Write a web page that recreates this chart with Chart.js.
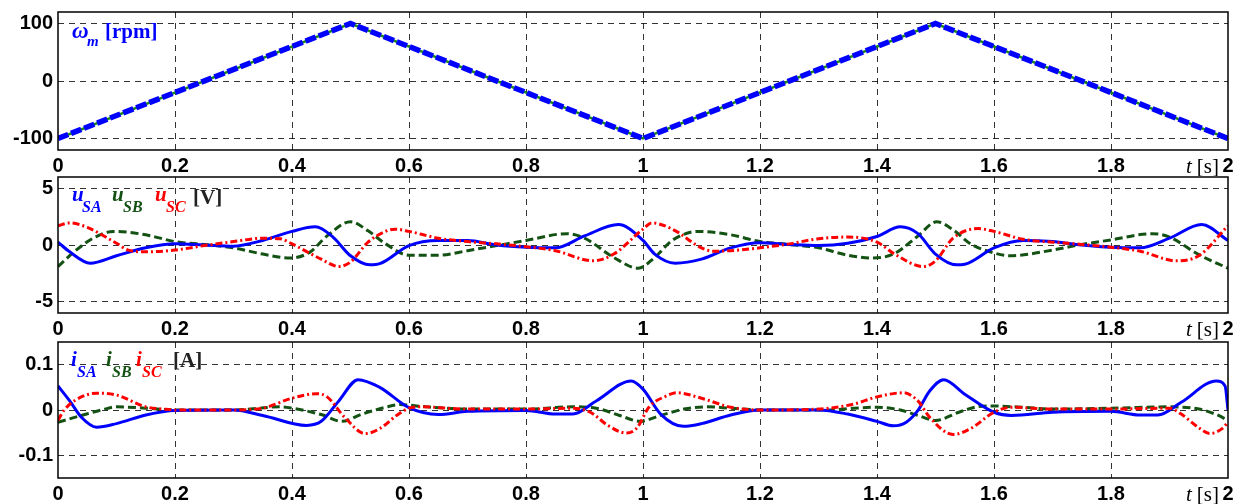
<!DOCTYPE html>
<html>
<head>
<meta charset="utf-8">
<script src="https://cdn.jsdelivr.net/npm/chart.js@4.4.0/dist/chart.umd.min.js"></script>
<style>
body { margin: 0; background: #fff; width: 1244px; height: 504px; overflow: hidden; position: relative; }
canvas { position: absolute; left: 0; }
</style>
</head>
<body>
<canvas id="p1" width="1244" height="176" style="top:0px"></canvas>
<canvas id="p2" width="1244" height="175" style="top:165px"></canvas>
<canvas id="p3" width="1244" height="174" style="top:330px"></canvas>
<script>
// time axis, shared
const xTicks = [0, 0.2, 0.4, 0.6, 0.8, 1, 1.2, 1.4, 1.6, 1.8, 2];
const xTickLabels = ['0', '0.2', '0.4', '0.6', '0.8', '1', '1.2', '1.4', '1.6', '1.8', '2'];

// speed [rpm]
const omegaT = [0, 0.5, 1, 1.5, 2];
const omegaRef = [-100, 100, -100, 100, -100];
const omegaMeas = [-100, 100, -100, 100, -100];
const omegaTicks = [-100, 0, 100];
const omegaTickLabels = ['-100', '0', '100'];

// voltages [V]
const uSA_t = [0, 0.02, 0.055, 0.1, 0.15, 0.2, 0.25, 0.3, 0.35, 0.4, 0.44, 0.47, 0.5, 0.533, 0.55, 0.6, 0.65, 0.7, 0.75, 0.8, 0.85, 0.9, 0.958, 1.0, 1.02, 1.055, 1.1, 1.15, 1.2, 1.25, 1.3, 1.35, 1.4, 1.44, 1.47, 1.5, 1.536, 1.55, 1.6, 1.65, 1.7, 1.75, 1.8, 1.85, 1.9, 1.955, 2.0];
const uSA = [0.25, -0.6, -1.6, -0.95, -0.25, 0.1, 0, -0.1, 0.4, 1.2, 1.6, 0.7, -0.95, -1.75, -1.65, -0.05, 0.4, 0.4, 0, -0.2, -0.25, 0.8, 1.8, 0.4, -0.8, -1.6, -1.25, -0.25, 0.2, 0.05, -0.05, 0.15, 0.75, 1.6, 1.0, -0.8, -1.75, -1.7, -0.25, 0.4, 0.3, 0, -0.2, -0.25, 0.6, 1.8, 0.4];
const uSB_t = [0, 0.03, 0.06, 0.095, 0.15, 0.2, 0.25, 0.3, 0.35, 0.397, 0.43, 0.46, 0.5, 0.53, 0.56, 0.6, 0.65, 0.7, 0.75, 0.8, 0.87, 0.9, 0.95, 0.992, 1.02, 1.05, 1.094, 1.15, 1.2, 1.25, 1.3, 1.35, 1.394, 1.43, 1.47, 1.502, 1.53, 1.56, 1.6, 1.628, 1.7, 1.75, 1.8, 1.87, 1.9, 1.95, 2.0];
const uSB = [-1.9, -0.5, 0.6, 1.2, 0.9, 0.3, 0.05, -0.25, -0.8, -1.15, -0.65, 0.8, 2.05, 1.25, 0.1, -0.9, -0.9, -0.5, -0.05, 0.4, 1.0, 0.6, -1.1, -2.05, -1.1, 0.4, 1.2, 0.9, 0.3, 0.05, -0.25, -0.9, -1.15, -0.75, 0.8, 2.05, 1.35, 0.1, -0.7, -0.95, -0.45, 0.05, 0.45, 1.0, 0.7, -0.85, -2.05];
const uSC_t = [0, 0.02, 0.05, 0.1, 0.12, 0.15, 0.2, 0.25, 0.3, 0.35, 0.38, 0.4, 0.45, 0.48, 0.5, 0.53, 0.56, 0.576, 0.6, 0.65, 0.7, 0.75, 0.8, 0.85, 0.915, 0.95, 1.0, 1.015, 1.05, 1.1, 1.12, 1.15, 1.2, 1.25, 1.3, 1.35, 1.4, 1.43, 1.479, 1.5, 1.53, 1.573, 1.6, 1.65, 1.7, 1.75, 1.8, 1.85, 1.912, 1.95, 2.0];
const uSC = [1.7, 1.95, 1.55, 0.15, -0.45, -0.6, -0.45, -0.05, 0.3, 0.6, 0.55, 0.1, -1.25, -1.9, -1.5, 0.25, 1.2, 1.4, 1.2, 0.6, 0.3, 0.1, -0.15, -0.5, -1.4, -0.8, 1.4, 1.95, 1.4, -0.25, -0.55, -0.5, -0.25, 0.1, 0.55, 0.7, 0.25, -0.8, -1.9, -1.4, 0.6, 1.45, 1.2, 0.5, 0.25, 0.05, -0.2, -0.55, -1.4, -0.95, 1.7];
const uTicks = [-5, 0, 5];
const uTickLabels = ['-5', '0', '5'];

// currents [A]
const iSA_t = [0, 0.02, 0.04, 0.066, 0.1, 0.15, 0.2, 0.3, 0.35, 0.425, 0.45, 0.48, 0.513, 0.55, 0.6, 0.65, 0.7, 0.8, 0.85, 0.88, 0.92, 0.98, 1.0, 1.03, 1.069, 1.1, 1.15, 1.2, 1.3, 1.35, 1.4, 1.428, 1.45, 1.47, 1.49, 1.514, 1.55, 1.6, 1.63, 1.7, 1.8, 1.85, 1.88, 1.92, 1.98, 1.995, 2.0];
const iSA = [0.053, 0.02, -0.016, -0.038, -0.03, -0.011, -0.001, 0, -0.012, -0.034, -0.025, 0.02, 0.067, 0.05, 0.005, -0.01, -0.003, -0.001, -0.009, -0.009, 0.02, 0.064, 0.046, -0.009, -0.036, -0.03, -0.011, 0, 0, -0.009, -0.025, -0.035, -0.027, -0.001, 0.042, 0.067, 0.035, -0.005, -0.012, -0.005, -0.003, -0.011, -0.011, 0.017, 0.064, 0.053, 0];
const iSB_t = [0, 0.04, 0.08, 0.1, 0.15, 0.2, 0.3, 0.38, 0.4, 0.45, 0.485, 0.52, 0.56, 0.585, 0.62, 0.7, 0.8, 0.88, 0.92, 0.96, 0.995, 1.03, 1.07, 1.108, 1.15, 1.2, 1.32, 1.36, 1.4, 1.44, 1.47, 1.5, 1.54, 1.57, 1.588, 1.65, 1.7, 1.8, 1.9, 1.95, 1.98, 2.0];
const iSB = [-0.027, -0.012, 0.002, 0.007, 0.004, 0, 0, 0.007, 0.004, -0.01, -0.025, -0.009, 0.006, 0.012, 0.008, 0.002, 0.002, 0.007, 0.004, -0.012, -0.025, -0.012, 0.002, 0.007, 0.004, 0, 0, 0.004, 0.006, 0, -0.012, -0.023, -0.005, 0.007, 0.009, 0.006, 0.002, 0.004, 0.007, 0.002, -0.01, -0.023];
const iSC_t = [0, 0.01, 0.03, 0.066, 0.1, 0.15, 0.18, 0.2, 0.3, 0.35, 0.4, 0.442, 0.46, 0.49, 0.525, 0.55, 0.58, 0.6, 0.62, 0.7, 0.8, 0.88, 0.91, 0.94, 0.972, 0.99, 1.01, 1.04, 1.058, 1.1, 1.15, 1.2, 1.3, 1.36, 1.4, 1.445, 1.47, 1.49, 1.53, 1.56, 1.6, 1.63, 1.7, 1.8, 1.9, 1.92, 1.95, 1.969, 1.99, 2.0];
const iSC = [-0.023, -0.001, 0.022, 0.037, 0.033, 0.007, 0.002, 0, 0, 0.004, 0.026, 0.036, 0.029, -0.016, -0.052, -0.041, -0.011, 0.004, 0.007, 0.002, 0.002, 0.004, -0.005, -0.034, -0.051, -0.039, 0.006, 0.031, 0.038, 0.026, 0.006, 0, 0.002, 0.013, 0.029, 0.038, 0.02, -0.016, -0.054, -0.041, -0.005, 0.006, 0.002, 0.002, 0.004, -0.009, -0.039, -0.052, -0.041, -0.027];
const iTicks = [-0.1, 0, 0.1];
const iTickLabels = ['-0.1', '0', '0.1'];

const BLUE = '#0000ff', GREEN = '#145214', LGREEN = '#1a8a1a', RED = '#ff0000';
const SERIF = '"Liberation Serif", "Times New Roman", serif';
const SANS = '"Liberation Sans", Arial, sans-serif';
const GRID = 'rgba(0,0,0,0.8)';

const pts = (t, v) => t.map((x, i) => ({ x: x, y: v[i] }));

function line(t, v, color, width, dash, smooth) {
    const ds = {
        data: pts(t, v),
        borderColor: color,
        borderWidth: width,
        borderDash: dash,
        pointRadius: 0,
        fill: false,
        tension: 0
    };
    if (smooth) ds.cubicInterpolationMode = 'monotone';
    return ds;
}

function drawParts(ctx, parts, top) {
    ctx.save();
    ctx.textBaseline = 'alphabetic';
    ctx.textAlign = 'left';
    parts.forEach(p => {
        ctx.font = p.font;
        ctx.fillStyle = p.color;
        ctx.fillText(p.text, p.x, p.y - top);
    });
    ctx.restore();
}

function panel(id, top, areaTop, areaBottom, yMin, yMax, yTicks, yLabels, datasets, legend) {
    const cv = document.getElementById(id);
    const h = cv.height;
    return new Chart(cv.getContext('2d'), {
        type: 'line',
        data: { datasets: datasets },
        options: {
            responsive: false,
            animation: false,
            devicePixelRatio: 1,
            layout: { padding: { top: areaTop - top, right: 16, left: 0, bottom: 0 } },
            plugins: { legend: { display: false }, tooltip: { enabled: false } },
            scales: {
                x: {
                    type: 'linear', min: 0, max: 2,
                    afterBuildTicks: s => { s.ticks = xTicks.map(v => ({ value: v })); },
                    afterFit: s => { s.height = h - (areaBottom - top); },
                    grid: {
                        drawTicks: false, lineWidth: 1,
                        color: c => (c.index === 0 || c.index === xTicks.length - 1) ? 'rgba(0,0,0,0)' : GRID
                    },
                    border: { display: false, dash: [6, 5] },
                    ticks: {
                        padding: 4.5, maxRotation: 0, autoSkip: false,
                        color: '#000', font: { family: SANS, size: 20, weight: 'bold', lineHeight: 1.2 },
                        callback: (v, i) => xTickLabels[i]
                    }
                },
                y: {
                    min: yMin, max: yMax,
                    afterBuildTicks: s => { s.ticks = yTicks.map(v => ({ value: v })); },
                    afterFit: s => { s.width = 58; },
                    grid: { drawTicks: false, lineWidth: 1, color: GRID },
                    border: { display: false, dash: [6, 5] },
                    ticks: {
                        padding: 5, autoSkip: false,
                        color: '#000', font: { family: SANS, size: 20, weight: 'bold', lineHeight: 0.6 },
                        callback: (v, i) => yLabels[i]
                    }
                }
            }
        },
        plugins: [{
            id: 'frame',
            afterDraw(chart) {
                const ctx = chart.ctx, a = chart.chartArea;
                ctx.save();
                ctx.strokeStyle = '#000';
                ctx.lineWidth = 1.5;
                ctx.strokeRect(a.left, a.top, a.right - a.left, a.bottom - a.top);
                // axis name left of the last tick label
                const base = a.bottom + 22.5;
                ctx.textBaseline = 'alphabetic';
                ctx.textAlign = 'right';
                ctx.fillStyle = '#000';
                ctx.font = '21px ' + SERIF;
                ctx.fillText('[s]', 1219, base);
                const w = ctx.measureText('[s]').width;
                ctx.font = 'italic 21px ' + SERIF;
                ctx.fillText('t', 1219 - w - 5, base);
                ctx.restore();
                drawParts(ctx, legend, top);
            }
        }]
    });
}

const BI = s => 'italic bold ' + s + 'px ' + SERIF;
const B = s => 'bold ' + s + 'px ' + SERIF;

panel('p1', 0, 12, 150, -120, 120, omegaTicks, omegaTickLabels, [
    line(omegaT, omegaMeas, BLUE, 5.5, [11, 3], false),
    line(omegaT, omegaRef, LGREEN, 2.5, [], false)
], [
    { text: 'ω', x: 72, y: 38, font: BI(23), color: BLUE },
    { text: 'm', x: 87, y: 46, font: BI(15), color: BLUE },
    { text: '[rpm]', x: 105, y: 38, font: B(21), color: BLUE }
]);

panel('p2', 165, 177, 313, -6, 6, uTicks, uTickLabels, [
    line(uSC_t, uSC, RED, 3, [7, 3, 2, 3], true),
    line(uSA_t, uSA, BLUE, 3, [], true),
    line(uSB_t, uSB, GREEN, 3, [8, 4], true)
], [
    { text: 'u', x: 72, y: 201, font: BI(21), color: BLUE },
    { text: 'SA', x: 82, y: 212, font: BI(16), color: BLUE },
    { text: 'u', x: 112, y: 201, font: BI(21), color: GREEN },
    { text: 'SB', x: 123, y: 212, font: BI(16), color: GREEN },
    { text: 'u', x: 155, y: 201, font: BI(21), color: RED },
    { text: 'SC', x: 166, y: 212, font: BI(16), color: RED },
    { text: '[V]', x: 193, y: 204, font: B(21), color: '#222' }
]);

panel('p3', 330, 342, 478, -0.15, 0.15, iTicks, iTickLabels, [
    line(iSC_t, iSC, RED, 3, [7, 3, 2, 3], true),
    line(iSA_t, iSA, BLUE, 3, [], true),
    line(iSB_t, iSB, GREEN, 3, [8, 4], true)
], [
    { text: 'i', x: 71, y: 366, font: BI(21), color: BLUE },
    { text: 'SA', x: 77, y: 377, font: BI(16), color: BLUE },
    { text: 'i', x: 106, y: 366, font: BI(21), color: GREEN },
    { text: 'SB', x: 112, y: 377, font: BI(16), color: GREEN },
    { text: 'i', x: 136, y: 366, font: BI(21), color: RED },
    { text: 'SC', x: 142, y: 377, font: BI(16), color: RED },
    { text: '[A]', x: 173, y: 367, font: B(21), color: '#222' }
]);
</script>
</body>
</html>
